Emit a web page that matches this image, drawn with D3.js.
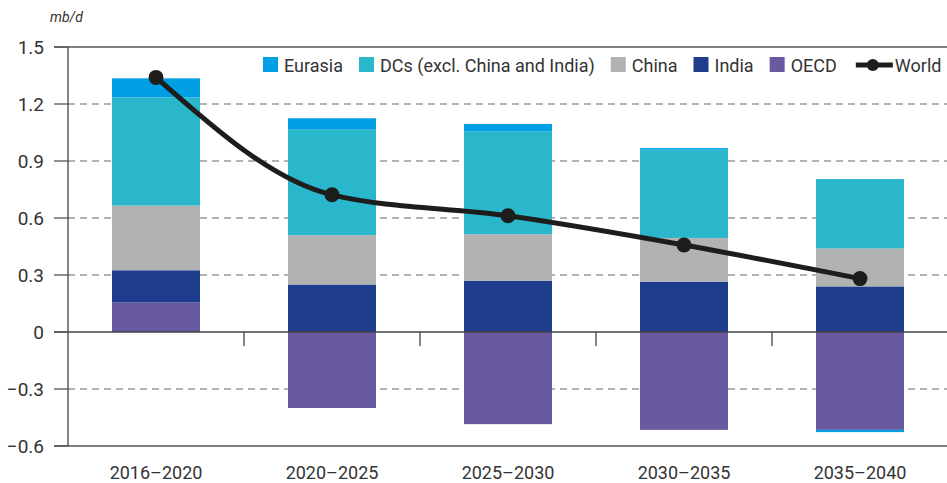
<!DOCTYPE html>
<html>
<head>
<meta charset="utf-8">
<script src="https://cdn.jsdelivr.net/npm/d3@7"></script>
<style>
  body { margin: 0; background: #fff; }
  text { font-family: Roboto, "DejaVu Sans", sans-serif; fill: #333; }
</style>
</head>
<body>
<script>
// periods on the x axis
var periods = ['2016\u20132020', '2020\u20132025', '2025\u20132030', '2030\u20132035', '2035\u20132040'];

// series values (mb/d)
var oecd    = [0.155, -0.400, -0.485, -0.515, -0.515];
var india   = [0.170,  0.250,  0.270,  0.265,  0.240];
var china   = [0.340,  0.260,  0.245,  0.230,  0.200];
var dcs     = [0.570,  0.555,  0.540,  0.465,  0.365];
var eurasia = [0.100,  0.060,  0.040,  0.008, -0.012];
var world   = [1.340,  0.722,  0.612,  0.458,  0.281];

var yTicks = [1.5, 1.2, 0.9, 0.6, 0.3, 0, -0.3, -0.6];

var keys = ['OECD', 'India', 'China', 'DCs', 'Eurasia'];
var colors = {
  Eurasia: '#009fe3',
  DCs: '#2ab7cc',
  China: '#b2b2b2',
  India: '#1e3c8c',
  OECD: '#6959a1'
};

var rows = periods.map(function (p, i) {
  return { period: p, OECD: oecd[i], India: india[i], China: china[i], DCs: dcs[i], Eurasia: eurasia[i] };
});

var svg = d3.select('body')
    .append('svg')
    .attr('width', 947)
    .attr('height', 483);

var x = d3.scaleBand()
    .domain(periods)
    .range([68, 948])
    .paddingInner(0.5)
    .paddingOuter(0.25);

var y = d3.scaleLinear()
    .domain([-0.6, 1.5])
    .range([446, 47]);

// unit label
svg.append('text')
    .attr('x', 50)
    .attr('y', 22)
    .style('font-size', '14px')
    .style('font-style', 'italic')
    .text('mb/d');

// gridlines
svg.selectAll('.grid')
    .data(yTicks.filter(function (d) { return d !== 0 && d !== 1.5 && d !== -0.6; }))
    .enter()
    .append('line')
    .attr('x1', 68)
    .attr('x2', 947)
    .attr('y1', d => y(d))
    .attr('y2', d => y(d))
    .attr('stroke', '#9a9a9a')
    .attr('stroke-width', 1.3)
    .attr('stroke-dasharray', '7,5');

// stacked bars
var stack = d3.stack().keys(keys).offset(d3.stackOffsetDiverging);
var series = stack(rows);

svg.selectAll('.series')
    .data(series)
    .enter()
    .append('g')
    .attr('fill', d => colors[d.key])
    .selectAll('rect')
    .data(d => d)
    .enter()
    .append('rect')
    .attr('x', d => x(d.data.period))
    .attr('width', x.bandwidth())
    .attr('y', d => y(Math.max(d[0], d[1])))
    .attr('height', d => Math.abs(y(d[0]) - y(d[1])));

// axes frame
svg.append('line')
    .attr('x1', 68).attr('x2', 68)
    .attr('y1', y(1.5)).attr('y2', y(-0.6))
    .attr('stroke', '#333').attr('stroke-width', 1.2);

[1.5, 0, -0.6].forEach(function (v) {
  svg.append('line')
      .attr('x1', 54).attr('x2', 947)
      .attr('y1', y(v)).attr('y2', y(v))
      .attr('stroke', v === 0 ? '#444' : '#555')
      .attr('stroke-width', 1.3);
});

// y tick marks and labels
svg.selectAll('.ytick')
    .data(yTicks)
    .enter()
    .append('line')
    .attr('x1', 54).attr('x2', 68)
    .attr('y1', d => y(d)).attr('y2', d => y(d))
    .attr('stroke', '#555').attr('stroke-width', 1.3);

svg.selectAll('.ylabel')
    .data(yTicks)
    .enter()
    .append('text')
    .attr('x', 44)
    .attr('y', d => y(d) + 7)
    .attr('text-anchor', 'end')
    .style('font-size', '19px')
    .text(d => d === 0 ? '0' : d3.format('.1f')(d));

// x ticks between bands at zero line
svg.selectAll('.xtick')
    .data(periods.slice(1))
    .enter()
    .append('line')
    .attr('x1', d => x(d) - x.step() * 0.25)
    .attr('x2', d => x(d) - x.step() * 0.25)
    .attr('y1', y(0)).attr('y2', y(0) + 14)
    .attr('stroke', '#444').attr('stroke-width', 1.3);

svg.selectAll('.xlabel')
    .data(periods)
    .enter()
    .append('text')
    .attr('x', d => x(d) + x.bandwidth() / 2)
    .attr('y', 479)
    .attr('text-anchor', 'middle')
    .style('font-size', '18px')
    .text(d => d);

// world line
var line = d3.line()
    .x((d, i) => x(periods[i]) + x.bandwidth() / 2)
    .y(d => y(d))
    .curve(d3.curveMonotoneX);

svg.append('path')
    .datum(world)
    .attr('d', line)
    .attr('fill', 'none')
    .attr('stroke', '#1d1d1b')
    .attr('stroke-width', 5);

svg.selectAll('.dot')
    .data(world)
    .enter()
    .append('circle')
    .attr('cx', (d, i) => x(periods[i]) + x.bandwidth() / 2)
    .attr('cy', d => y(d))
    .attr('r', 7.5)
    .attr('fill', '#1d1d1b');

// legend
var legendItems = [
  { key: 'Eurasia', label: 'Eurasia' },
  { key: 'DCs', label: 'DCs (excl. China and India)' },
  { key: 'China', label: 'China' },
  { key: 'India', label: 'India' },
  { key: 'OECD', label: 'OECD' },
  { key: 'World', label: 'World' }
];

var legend = svg.append('g');
var lx = 263;
legendItems.forEach(function (item) {
  if (item.key === 'World') {
    lx += 3;
    legend.append('line')
        .attr('x1', lx).attr('x2', lx + 37)
        .attr('y1', 65).attr('y2', 65)
        .attr('stroke', '#1d1d1b').attr('stroke-width', 5);
    legend.append('circle')
        .attr('cx', lx + 17).attr('cy', 65).attr('r', 6)
        .attr('fill', '#1d1d1b');
    lx += 39;
  } else {
    legend.append('rect')
        .attr('x', lx).attr('y', 57)
        .attr('width', 15).attr('height', 15)
        .attr('fill', colors[item.key]);
    lx += 21;
  }
  var t = legend.append('text')
      .attr('x', lx)
      .attr('y', 72)
      .style('font-size', '18px')
      .text(item.label);
  lx += t.node().getComputedTextLength() + 16;
});
</script>
</body>
</html>
